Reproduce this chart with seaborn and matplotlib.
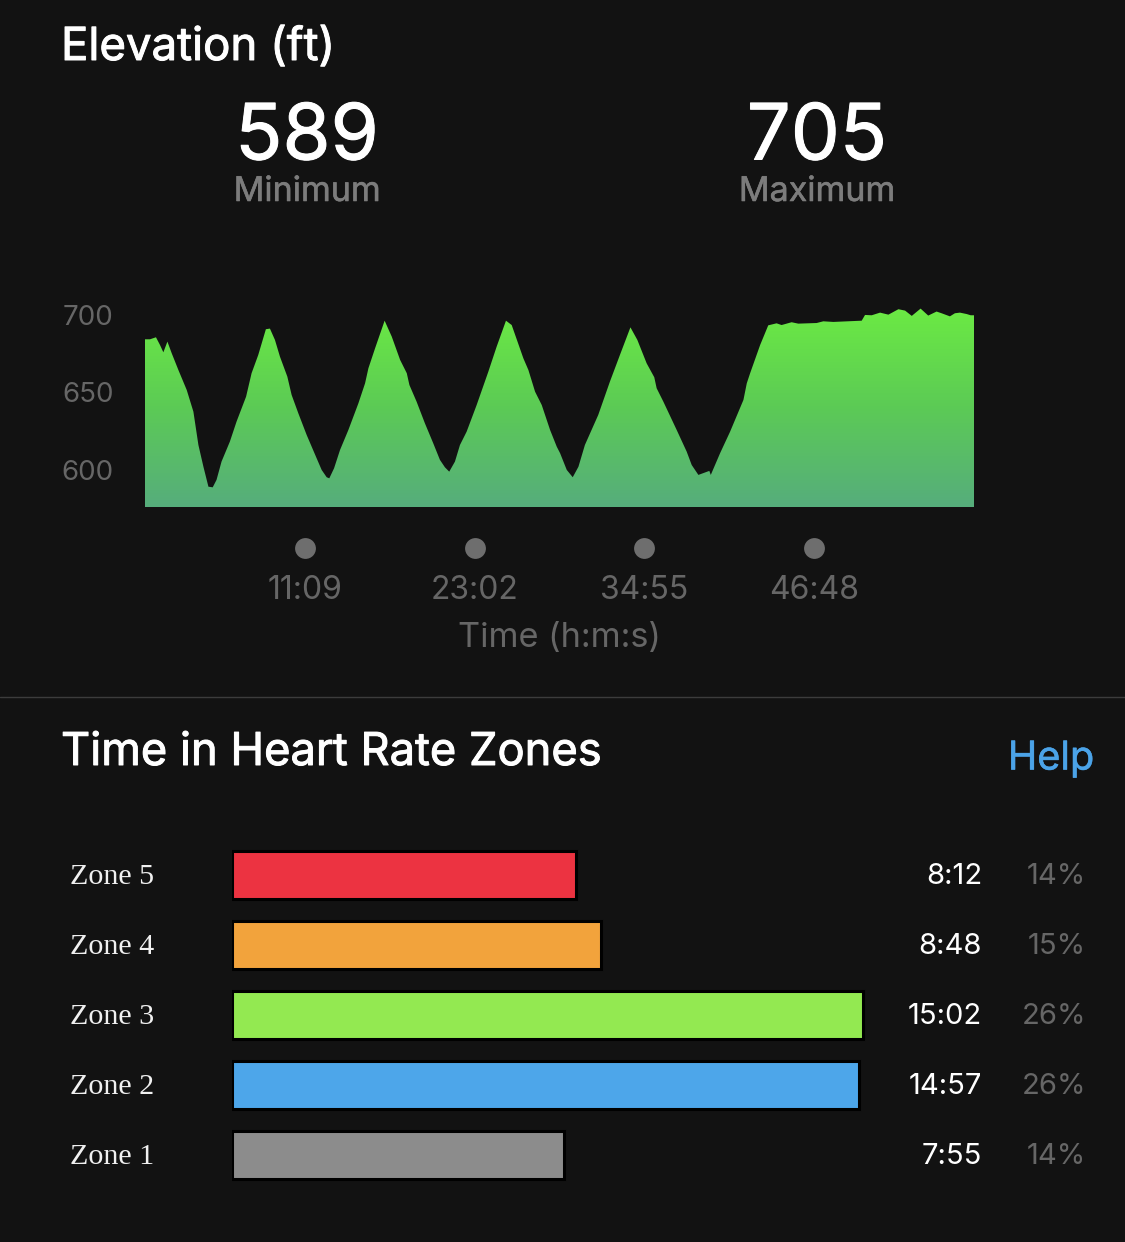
import numpy as np
import pandas as pd
import matplotlib
matplotlib.use("Agg")
import matplotlib.pyplot as plt
import matplotlib.patheffects as pe
from matplotlib.colors import LinearSegmentedColormap
import seaborn as sns

# elevation profile
time_s = [0, 21, 46, 63, 77, 94, 112, 140, 175, 203, 224, 245, 266, 284, 300, 321, 356, 384, 424, 447,
          475, 507, 524, 545, 566, 597, 615, 643, 678, 720, 741, 762, 773, 793, 818, 853, 895, 923, 937, 965,
          1005, 1035, 1070, 1098, 1109, 1139, 1174, 1209, 1237, 1258, 1276, 1300, 1321, 1349, 1391, 1440, 1475, 1514, 1538, 1587,
          1608, 1636, 1664, 1699, 1727, 1741, 1769, 1794, 1818, 1845, 1901, 1950, 1992, 2036, 2065, 2104, 2136, 2146, 2174, 2230,
          2272, 2293, 2321, 2367, 2373, 2412, 2454, 2510, 2524, 2538, 2580, 2614, 2649, 2670, 2712, 2740, 2817, 2845, 2887, 3006,
          3020, 3048, 3083, 3118, 3160, 3188, 3216, 3253, 3285, 3320, 3341, 3376, 3397, 3418, 3446, 3463, 3477]
elevation_ft = [684.3, 684.3, 685.6, 680.6, 675.9, 682.8, 675.3, 664.5, 651.6, 637.6, 616.1, 602.1, 589.2, 588.8, 593.6, 605.4, 618.3, 631.2, 647.3, 662.4,
                674.2, 690.8, 691.2, 683.9, 673.1, 660.2, 648.4, 636.6, 622.6, 607.5, 600.0, 595.3, 594.6, 601.1, 612.9, 625.8, 643.0, 655.9, 665.6, 678.5,
                696.3, 686.0, 671.0, 662.4, 654.8, 644.1, 630.1, 617.2, 606.5, 601.7, 598.9, 605.4, 616.1, 624.7, 641.9, 663.4, 679.6, 696.3, 693.5, 672.0,
                664.5, 650.5, 641.9, 625.8, 615.0, 610.8, 600.0, 595.3, 602.1, 616.1, 635.5, 657.0, 674.2, 692.0, 683.9, 668.8, 659.8, 652.7, 644.1, 625.8,
                611.8, 603.2, 596.8, 599.4, 596.8, 610.8, 624.7, 645.2, 655.9, 662.4, 680.6, 693.3, 694.6, 693.5, 695.3, 694.4, 694.8, 695.9, 695.5, 696.3,
                700.0, 699.8, 701.5, 700.2, 703.7, 702.8, 699.4, 704.1, 699.6, 702.2, 701.1, 699.1, 701.1, 701.5, 700.6, 699.8, 699.8]
elev_ticks = [600, 650, 700]
time_ticks = [669, 1382, 2095, 2808]
time_labels = ["11:09", "23:02", "34:55", "46:48"]

zones = ["Zone 5", "Zone 4", "Zone 3", "Zone 2", "Zone 1"]
zone_seconds = [492, 528, 902, 897, 475]
zone_times = ["8:12", "8:48", "15:02", "14:57", "7:55"]
zone_pcts = ["14%", "15%", "26%", "26%", "14%"]
zone_colors = ["#EC3341", "#F2A33C", "#93E951", "#4DA6EA", "#8C8C8C"]

BG = "#121212"
W, H = 1125, 1242
SANS = "Inter"

sns.set_theme(style="dark", rc={"figure.facecolor": BG, "axes.facecolor": BG, "savefig.facecolor": BG})
plt.rcParams["font.family"] = [SANS, "DejaVu Sans"]

fig = plt.figure(figsize=(W / 100, H / 100), dpi=100)


def px_axes(left, top, right, bottom):
    return fig.add_axes([left / W, 1 - bottom / H, (right - left) / W, (bottom - top) / H])


def px_text(x, y, s, bold=0, **kw):
    kw.setdefault("va", "center")
    t = fig.text(x / W, 1 - y / H, s, **kw)
    if bold:
        # the installed Inter has one weight only, thicken the heading strokes
        t.set_path_effects([pe.withStroke(linewidth=bold, foreground=kw["color"])])
    return t


# elevation chart
ax = px_axes(145, 290, 974, 507)
poly = ax.fill_between(time_s, elevation_ft, 570, color="none", lw=0)
cmap = LinearSegmentedColormap.from_list("elev", ["#56AD7C", "#5CCB55", "#6CEB43"])
grad = np.linspace(0, 1, 256).reshape(-1, 1)
im = ax.imshow(grad, extent=(0, 3477, 576.1, 706), origin="lower", aspect="auto", cmap=cmap, zorder=2)
im.set_clip_path(poly.get_paths()[0], transform=ax.transData)
ax.set_xlim(0, 3477)
ax.set_ylim(576.1, 716.1)

ax.set_yticks(elev_ticks)
ax.set_yticklabels(elev_ticks, fontsize=20, color="#666666")
ax.set_xticks(time_ticks)
ax.set_xticklabels(time_labels, fontsize=23, color="#666666")
ax.tick_params(axis="y", length=0, pad=22.5)
ax.tick_params(axis="x", length=0, pad=49)
ax.grid(False)
sns.despine(ax=ax, left=True, bottom=True)
ax.plot(time_ticks, [-0.189] * 4, "o", ms=15, color="#6E6E6E", mew=0,
        transform=ax.get_xaxis_transform(), clip_on=False)

px_text(61, 48, "Elevation (ft)", bold=0.7, color="white", fontsize=32.8)
px_text(307, 139, "589", bold=0.7, color="white", fontsize=56, ha="center")
px_text(817, 139, "705", bold=0.7, color="white", fontsize=56, ha="center")
px_text(307, 192, "Minimum", bold=0.4, color="#7C7C7C", fontsize=24.5, ha="center")
px_text(817, 192, "Maximum", bold=0.4, color="#7C7C7C", fontsize=24.5, ha="center")
px_text(559, 638, "Time (h:m:s)", color="#666666", fontsize=24.7, ha="center")

# separator
fig.add_artist(plt.Line2D([0, 1], [1 - 697 / H] * 2, color="#3C3C3C", lw=1))

px_text(61, 753, "Time in Heart Rate Zones", bold=0.7, color="white", fontsize=32.6)
px_text(1094, 759, "Help", bold=0.4, color="#4BA3E8", fontsize=28.5, ha="right")

# zone bars
df = pd.DataFrame({"zone": zones, "seconds": zone_seconds})
bx = px_axes(231.5, 840, 1125, 1190)
sns.barplot(data=df, y="zone", x="seconds", hue="zone", palette=zone_colors, legend=False,
            width=0.685, edgecolor="black", linewidth=2.2, saturation=1, ax=bx)
bx.set_xlim(0, (1125 - 231.5) / 0.70)
bx.set_ylim(4.5, -0.5)
bx.set_xlabel("")
bx.set_ylabel("")
bx.set_xticks([])
bx.set_yticks([])
bx.patch.set_alpha(0)
bx.grid(False)
sns.despine(ax=bx, left=True, bottom=True)

for i, zone in enumerate(zones):
    y = 875 + 70 * i
    px_text(70, y + 2, zone, color="#F0F0F0", fontsize=21.6, family="Liberation Serif")
    px_text(982, y + 1, zone_times[i], color="white", fontsize=21, ha="right")
    px_text(1086, y + 1, zone_pcts[i], color="#666666", fontsize=21, ha="right")

fig.savefig("out.png", dpi=100)
